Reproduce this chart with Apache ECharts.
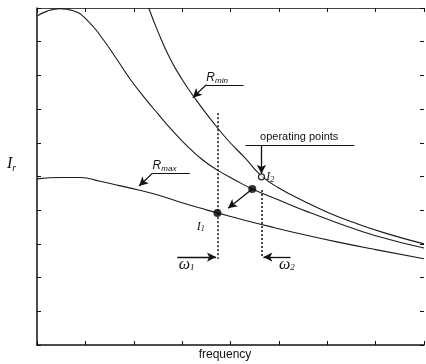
<!DOCTYPE html>
<html><head><meta charset="utf-8">
<script src="https://cdn.jsdelivr.net/npm/echarts@6/dist/echarts.min.js"></script>
<style>html,body{margin:0;padding:0;background:#fff}#c{width:426px;height:364px}</style>
</head><body><div id="c"></div>
<script>
// Curve A (middle curve, peaked)
const curveA = [[0,9.76],[0.2,9.90],[0.47,9.98],[0.75,9.92],[1.05,9.62],[1.36,9.08],[1.65,8.48],[1.92,7.90],[2.2,7.38],[2.5,6.86],[2.8,6.36],[3.1,5.91],[3.4,5.52],[3.73,5.19],[4.1,4.89],[4.45,4.63],[5.0,4.30],[5.6,3.95],[6.2,3.63],[7.0,3.24],[8.0,2.88]];
// Curve R_min (steepest)
const curveRmin = [[2.31,10.0],[2.5,9.30],[2.75,8.50],[3.0,7.88],[3.3,7.25],[3.6,6.68],[3.92,6.12],[4.3,5.55],[4.64,5.02],[5.0,4.66],[5.5,4.28],[6.0,3.94],[6.5,3.66],[7.2,3.32],[8.0,3.0]];
// Curve R_max (lowest)
const curveRmax = [[0,4.93],[0.5,4.97],[0.9,4.97],[1.3,4.86],[1.7,4.73],[2.1,4.60],[2.5,4.45],[3.0,4.22],[3.5,4.01],[3.73,3.92],[4.2,3.74],[4.8,3.52],[5.5,3.28],[6.2,3.06],[7.0,2.83],[8.0,2.56]];
// operating points
const filledPoints = [[4.45,4.63],[3.73,3.92]];
const openPoints = [[4.64,4.99]];
// dotted lines
const dottedLines = [[[3.73,6.88],[3.73,2.55]],[[4.64,4.6],[4.64,2.58]]];
// plain lines (underlines)
const plainLines = [[[4.31,5.93],[6.56,5.93]],[[3.50,7.72],[4.27,7.72]],[[2.39,5.10],[3.16,5.10]]];
// arrows
const arrows = [[[4.64,5.93],[4.64,5.08]],[[4.45,4.63],[3.95,4.06]],[[2.90,2.61],[3.70,2.61]],[[5.24,2.61],[4.68,2.61]],[[3.50,7.72],[3.22,7.34]],[[2.39,5.10],[2.11,4.72]]];
// annotation texts: [x, y, rich text]
const annotations = [
  [5.42,6.17,'{s|operating points}'],
  [3.50,7.92,'{r|R}{rs|min}'],
  [2.39,5.33,'{r|R}{rs|max}'],
  [4.74,4.98,'{i|I}{is|2}'],
  [3.30,3.52,'{i|I}{is|1}'],
  [2.93,2.37,'{w|ω}{ws|1}'],
  [5.00,2.37,'{w|ω}{ws|2}']
];
const xTicks = [0,1,2,3,4,5,6,7,8];
const yTicks = [0,1,2,3,4,5,6,7,8,9,10];

const rich = {
  s:{fontFamily:'Liberation Sans',fontSize:11,fill:'#111'},
  r:{fontFamily:'Liberation Sans',fontStyle:'italic',fontSize:12,fill:'#111'},
  rs:{fontFamily:'Liberation Sans',fontStyle:'italic',fontSize:8,fill:'#111',padding:[6,0,0,0]},
  i:{fontFamily:'Liberation Serif',fontStyle:'italic',fontSize:12,fill:'#111'},
  is:{fontFamily:'Liberation Serif',fontStyle:'italic',fontSize:8,fill:'#111',padding:[6,0,0,0]},
  w:{fontFamily:'Liberation Serif',fontStyle:'italic',fontSize:16,fill:'#111'},
  ws:{fontFamily:'Liberation Serif',fontStyle:'italic',fontSize:9,fill:'#111',padding:[6,0,0,0]}
};

function axis(extra){
  return Object.assign({
    type:'value', axisLabel:{show:false}, splitLine:{show:false},
    axisLine:{show:true,onZero:false,lineStyle:{color:'#111',width:1.5}},
    axisTick:{show:true,inside:true,length:4,lineStyle:{color:'#111',width:1}}
  },extra);
}
const chart = echarts.init(document.getElementById('c'),null,{renderer:'canvas'});
const lineStyle = {color:'#1a1a1a',width:1.1};
function toML(list){
  return list.map(p=>[{coord:p[0]},{coord:p[1]}]);
}
chart.setOption({
  animation:false,
  grid:{left:37,right:2,top:8,bottom:19},
  xAxis:[
    axis({min:0,max:8,interval:1,position:'bottom'}),
    axis({min:0,max:8,interval:1,position:'top',axisLine:{show:true,onZero:false,lineStyle:{color:'#444',width:1.2}}})
  ],
  yAxis:[
    axis({min:0,max:10,interval:1,position:'left'}),
    axis({min:0,max:10,interval:1,position:'right',axisLine:{show:false,onZero:false}})
  ],
  series:[
    {type:'line',data:curveA,smooth:0.5,symbol:'none',lineStyle:lineStyle,silent:true,
      markLine:{silent:true,symbol:['none','arrow'],symbolSize:[7,9],label:{show:false},
        lineStyle:{color:'#111',width:1.3,type:'solid'},data:toML(arrows)}},
    {type:'line',data:curveRmin,smooth:0.5,symbol:'none',lineStyle:lineStyle,silent:true,
      markLine:{silent:true,symbol:['none','none'],label:{show:false},
        lineStyle:{color:'#111',width:1.2,type:'solid'},data:toML(plainLines)}},
    {type:'line',data:curveRmax,smooth:0.5,symbol:'none',lineStyle:lineStyle,silent:true,
      markLine:{silent:true,symbol:['none','none'],label:{show:false},
        lineStyle:{color:'#111',width:1.5,type:[2,2]},data:toML(dottedLines)}},
    {type:'scatter',data:filledPoints,symbol:'circle',symbolSize:8,itemStyle:{color:'#000'},silent:true,z:5},
    {type:'scatter',data:openPoints,symbol:'circle',symbolSize:6,itemStyle:{color:'#fff',borderColor:'#000',borderWidth:1.3},silent:true,z:5}
  ]
});
const g = annotations.map(a=>{
  const p = chart.convertToPixel({gridIndex:0},[a[0],a[1]]);
  const centered = a[2].indexOf('{s|')===0;
  return {type:'text',x:p[0],y:p[1],style:{text:a[2],rich:rich,align:centered?'center':'left',verticalAlign:'middle'},silent:true,z:10};
});
g.push({type:'text',x:225,y:355,style:{text:'frequency',fontFamily:'Liberation Sans',fontSize:12,fill:'#111',align:'center',verticalAlign:'middle'}});
g.push({type:'text',x:7,y:164,style:{text:'{i|I}{is|r}',rich:{i:{fontFamily:'Liberation Serif',fontStyle:'italic',fontSize:16,fill:'#111'},is:{fontFamily:'Liberation Serif',fontStyle:'italic',fontSize:10,fill:'#111',padding:[8,0,0,0]}},verticalAlign:'middle'}});
chart.setOption({graphic:g});
</script></body></html>
